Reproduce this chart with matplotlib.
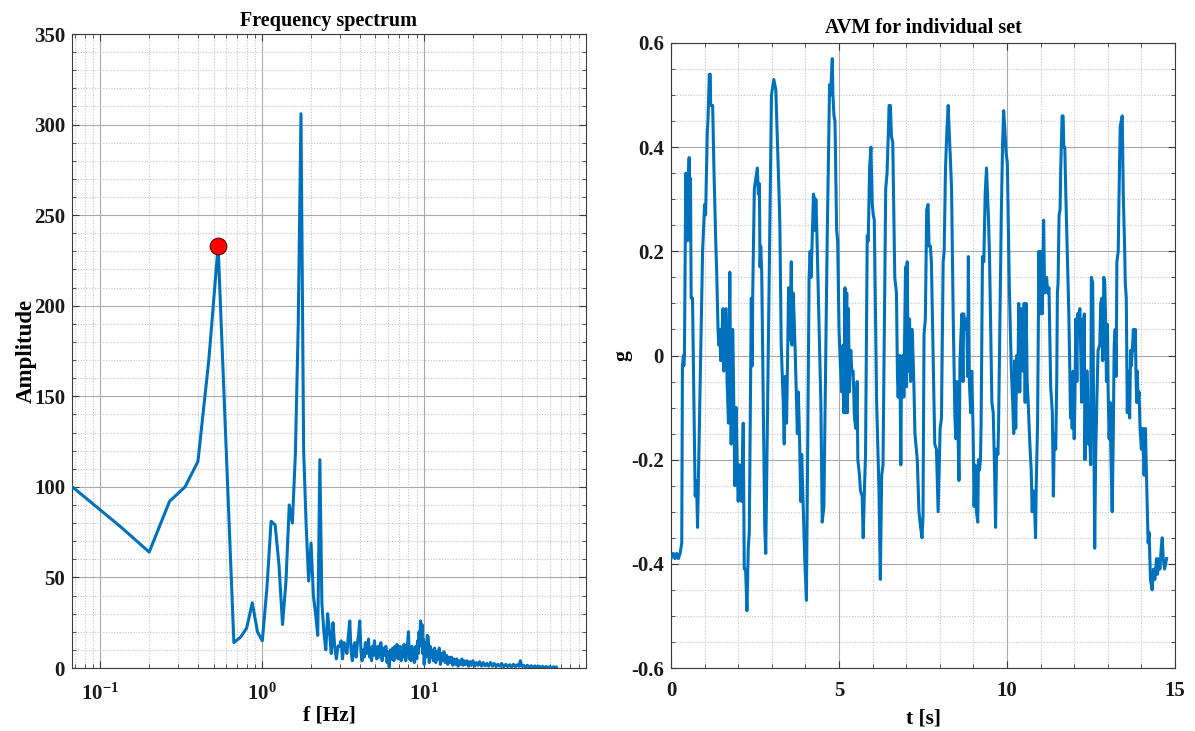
import numpy as np
import matplotlib
matplotlib.use('Agg')
import matplotlib.pyplot as plt
from matplotlib.ticker import MultipleLocator, FuncFormatter, LogLocator, NullFormatter

# ---------------- data: frequency spectrum ----------------
freq_low = [0.067, 0.133, 0.200, 0.267, 0.333, 0.400, 0.467, 0.533, 0.600, 0.667,
            0.733, 0.800, 0.867, 0.933, 1.000, 1.067, 1.133, 1.200, 1.267, 1.333,
            1.400, 1.467, 1.533, 1.600, 1.667, 1.733, 1.800, 1.867, 1.933, 2.000,
            2.067, 2.133, 2.200, 2.267, 2.333, 2.400, 2.467, 2.533, 2.600, 2.667,
            2.733, 2.800, 2.867, 2.933]
amp_low = [100, 78, 64, 92, 100, 114, 170, 233, 118, 14,
           17, 22, 36, 20, 15, 44, 81, 79, 57, 24,
           48, 90, 80, 118, 190, 306, 120, 78, 48, 69,
           40, 30, 18, 115, 36, 20, 10, 30, 20, 8,
           25, 12, 5, 12]

freq_tail = [3.00, 3.07, 3.13, 3.20, 3.27, 3.33, 3.40, 3.47, 3.53, 3.60, 3.67, 3.73, 3.80, 3.87, 3.93, 4.00,
             4.07, 4.13, 4.20, 4.27, 4.33, 4.40, 4.47, 4.53, 4.60, 4.67, 4.73, 4.80, 4.87, 4.93, 5.00,
             5.10, 5.20, 5.30, 5.40, 5.50, 5.60, 5.70, 5.80, 5.90, 6.00, 6.08, 6.20, 6.30, 6.40, 6.50,
             6.60, 6.70, 6.80, 6.90, 7.00, 7.10, 7.20, 7.30, 7.40, 7.50, 7.60, 7.70, 7.80, 7.90, 8.00,
             8.10, 8.20, 8.30, 8.40, 8.50, 8.60, 8.70, 8.80, 8.90, 9.00, 9.10, 9.20, 9.30, 9.40, 9.50,
             9.60, 9.70, 9.80, 9.90, 10.00,
             10.15, 10.30, 10.45, 10.60, 10.75, 10.90, 11.05, 11.20,
             11.40, 11.60, 11.80, 12.00, 12.20, 12.40, 12.60, 12.80, 13.00,
             13.25, 13.50, 13.75, 14.00, 14.25, 14.50, 14.75, 15.00,
             15.30, 15.60, 15.90, 16.20, 16.50, 16.80, 17.10, 17.40, 17.70, 18.00,
             18.40, 18.80, 19.20, 19.60, 20.00,
             20.50, 21.00, 21.50, 22.00,
             22.60, 23.20, 23.80, 24.40, 25.00,
             25.70, 26.40, 27.10, 27.80, 28.50,
             29.30, 30.10, 31.00, 31.90, 32.80, 33.70, 34.60, 35.60, 36.60, 37.60, 38.60,
             39.30, 40.00,
             41.00, 42.20, 43.40, 44.60, 45.80, 47.00, 48.30, 49.60,
             51.00, 52.40, 53.80, 55.30, 56.80, 58.30, 59.80, 61.40, 63.00, 64.60, 65.50]
amp_tail = [12, 15, 5, 14, 12, 8, 18, 26, 10, 4, 12, 14, 6, 14, 18, 26,
            9, 4, 10, 6, 14, 8, 12, 16, 6, 11, 4, 12, 7, 15, 9,
            5, 12, 6, 14, 4, 11, 7, 12, 3, 9, 0.5, 10, 5, 11, 4,
            12, 6, 13, 5, 10, 12, 4, 9, 6, 13, 7, 4, 12, 14, 20,
            5, 11, 4, 12, 6, 10, 3, 9, 12, 5, 15, 8, 20, 12, 26,
            14, 24, 8, 16, 2,
            14, 6, 18, 17, 3, 12, 6, 10,
            4, 11, 3, 9, 5, 11, 2, 8, 4,
            9, 3, 7, 2, 6, 3, 6, 1.5,
            5, 2, 5, 1, 4, 2, 5, 1.5, 4, 2,
            4, 1, 3.5, 1.5, 4,
            1, 3, 1.5, 3.5,
            1, 3, 1.2, 2.5, 1,
            3, 1, 2.5, 0.8, 2,
            1, 2.5, 0.7, 2, 0.8, 1.8, 0.6, 2, 0.7, 1.8, 1,
            4, 1,
            1.5, 0.5, 1.5, 0.4, 1.3, 0.4, 1.2, 0.3,
            1, 0.3, 0.9, 0.3, 0.8, 0.3, 0.7, 0.3, 0.6, 0.3, 0.5]

# ---------------- data: AVM time history ----------------
t_sec = [
    0.00, 0.07, 0.12, 0.17, 0.22, 0.27, 0.32, 0.34, 0.37, 0.38, 0.40, 0.44, 0.47, 0.54, 0.56, 0.58, 0.60, 0.64,
    0.72, 0.76, 0.79, 0.94, 1.00, 1.03, 1.08, 1.10, 1.14, 1.17, 1.18, 1.24, 1.28, 1.34, 1.36, 1.40, 1.42, 1.45,
    1.48, 1.55, 1.57, 1.64, 1.67, 1.71, 1.75, 1.79, 1.84, 1.90, 1.94, 1.97, 2.00, 2.04, 2.10, 2.15, 2.18, 2.22,
    2.26, 2.30, 2.33, 2.39, 2.42, 2.43, 2.48, 2.57, 2.60, 2.63, 2.65, 2.67, 2.70, 2.79, 2.82, 2.99, 3.06, 3.12,
    3.22, 3.24, 3.28, 3.34, 3.37, 3.40, 3.44, 3.50, 3.54, 3.58, 3.60, 3.64, 3.70,
    3.76, 3.79, 3.83, 3.86, 3.89, 3.93, 3.98, 4.03, 4.11, 4.14, 4.17, 4.21, 4.24, 4.27, 4.29, 4.31, 4.34, 4.46,
    4.50, 4.55, 4.65, 4.72, 4.75, 4.80, 4.82, 4.85, 4.88, 4.93, 4.96, 5.00, 5.03, 5.08, 5.12, 5.14, 5.18, 5.20,
    5.23, 5.25, 5.28, 5.31, 5.35, 5.38, 5.42, 5.46, 5.50, 5.54, 5.56, 5.61, 5.64, 5.69, 5.72, 5.76, 5.79, 5.84,
    5.87, 5.91, 5.95, 5.99, 6.02, 6.05, 6.12, 6.19, 6.23, 6.27, 6.31, 6.39, 6.43, 6.47, 6.49, 6.53, 6.56, 6.60,
    6.66, 6.71, 6.74, 6.76, 6.81, 6.84, 6.86, 6.90, 6.93, 6.98, 7.01, 7.03, 7.06, 7.10, 7.13, 7.18, 7.23, 7.26,
    7.33,
    7.38, 7.43, 7.47, 7.50, 7.53, 7.57, 7.61, 7.65, 7.68, 7.72, 7.75, 7.85, 7.90, 7.95, 7.98, 8.01, 8.05, 8.10,
    8.13, 8.17, 8.21, 8.25, 8.28, 8.32, 8.35, 8.40, 8.45, 8.48, 8.51, 8.54, 8.57, 8.60, 8.63, 8.66, 8.69, 8.71,
    8.75, 8.80, 8.83, 8.85, 8.88, 8.92, 8.95, 8.99, 9.02, 9.05, 9.09, 9.13, 9.15, 9.18, 9.21, 9.23, 9.27, 9.31,
    9.35, 9.39, 9.42, 9.45, 9.48, 9.55, 9.59, 9.63, 9.66, 9.69, 9.73, 9.75, 9.80, 9.83, 9.87, 9.90, 9.93, 9.97,
    10.01, 10.07, 10.13, 10.17, 10.20, 10.23, 10.26, 10.29, 10.32, 10.35, 10.38, 10.41, 10.44, 10.47, 10.51,
    10.54, 10.57, 10.60, 10.63, 10.68, 10.72, 10.75, 10.78, 10.81, 10.85, 10.87, 10.91, 10.95, 10.98, 11.01,
    11.05, 11.09, 11.12, 11.15, 11.18, 11.21, 11.25, 11.30, 11.35,
    11.38, 11.41, 11.45, 11.48, 11.50, 11.52, 11.55, 11.58, 11.60, 11.64, 11.67, 11.69, 11.72, 11.75, 11.79,
    11.84, 11.87, 11.89, 11.92, 11.94, 11.97, 12.00, 12.02, 12.05, 12.08, 12.10, 12.14, 12.17, 12.20, 12.22,
    12.25, 12.28, 12.30, 12.32, 12.35, 12.39, 12.42, 12.46, 12.49, 12.51, 12.55, 12.58, 12.61, 12.64, 12.68,
    12.71, 12.76, 12.79, 12.82, 12.85, 12.88, 12.91, 12.94, 12.96, 12.99, 13.01, 13.04, 13.07, 13.09, 13.13,
    13.16, 13.19, 13.22, 13.25, 13.27, 13.31, 13.34, 13.37, 13.40, 13.43, 13.46, 13.50, 13.52, 13.55, 13.58,
    13.60, 13.63, 13.65, 13.68, 13.70, 13.73, 13.76, 13.79, 13.82, 13.84, 13.86, 13.88, 13.90, 13.93, 13.96,
    14.00, 14.04, 14.08, 14.12, 14.14, 14.20, 14.23, 14.27, 14.32, 14.36, 14.40, 14.45, 14.48, 14.52, 14.55,
    14.59, 14.62, 14.65, 14.69, 14.72, 14.75]
g_val = [
    -0.39, -0.38, -0.39, -0.38, -0.39, -0.38, -0.36, -0.02, 0.00, -0.02, 0.00, 0.35, 0.22, 0.38, 0.22, 0.34, 0.11, 0.11,
    -0.27, -0.24, -0.33, 0.20, 0.29, 0.27, 0.43, 0.45, 0.54, 0.54, 0.48, 0.48, 0.35, 0.20, 0.16, 0.05, 0.02, 0.05,
    -0.01, 0.09, -0.03, 0.09, -0.05, -0.13, 0.16, -0.17, 0.05, -0.25, -0.10, -0.21, -0.28, -0.21, -0.28, -0.13, -0.41, -0.41,
    -0.49, -0.37, -0.34, 0.11, -0.02, 0.11, 0.32, 0.36, 0.31, 0.33, 0.17, 0.21, 0.16, -0.33, -0.38, 0.50, 0.53, 0.51,
    0.30, 0.25, 0.02, -0.09, -0.17, -0.04, -0.13, 0.13, 0.03, 0.18, 0.02, 0.12, 0.00,
    -0.15, -0.07, -0.17, -0.28, -0.19, -0.28, -0.39, -0.47, 0.15, 0.20, 0.15, 0.24, 0.31, 0.30, 0.24, 0.30, 0.24, -0.09,
    -0.32, -0.29, 0.23, 0.52, 0.50, 0.57, 0.50, 0.46, 0.45, 0.24, 0.22, 0.05, 0.00, -0.07, 0.02, -0.11, 0.13, -0.11,
    0.12, -0.11, 0.09, -0.07, 0.01, -0.03, -0.03, -0.12, -0.14, -0.05, -0.20, -0.23, -0.26, -0.27, -0.35, -0.25, -0.19, 0.23,
    0.22, 0.36, 0.40, 0.29, 0.27, 0.26, -0.09, -0.26, -0.43, -0.23, -0.21, 0.32, 0.35, 0.43, 0.48, 0.48, 0.42, 0.41,
    0.15, 0.12, -0.04, -0.08, 0.00, -0.21, -0.04, 0.00, -0.08, 0.17, -0.06, 0.18, -0.03, 0.07, -0.05, 0.05, -0.06, -0.15,
    -0.20,
    -0.30, -0.33, -0.35, -0.31, 0.04, 0.07, 0.28, 0.29, 0.21, 0.21, 0.18, -0.17, -0.18, -0.30, -0.22, -0.14, -0.12, 0.18,
    0.20, 0.36, 0.43, 0.48, 0.43, 0.37, 0.32, 0.07, -0.12, -0.16, -0.05, -0.14, -0.24, -0.01, 0.04, 0.08, -0.05, 0.08,
    0.05, 0.07, -0.04, 0.19, -0.05, -0.11, -0.03, -0.14, -0.29, -0.21, -0.30, -0.32, -0.20, -0.22, -0.20, -0.13, 0.19, 0.18,
    0.31, 0.36, 0.31, 0.26, 0.19, -0.09, -0.11, -0.22, -0.33, -0.18, -0.19, -0.13, 0.13, 0.27, 0.41, 0.47, 0.44, 0.39,
    0.37, 0.13, -0.03, -0.09, -0.15, -0.01, -0.14, 0.00, -0.07, 0.10, -0.07, 0.07, 0.09, -0.03, 0.10,
    -0.09, 0.10, -0.05, -0.09, -0.17, -0.22, -0.30, -0.26, -0.27, -0.35, -0.25, -0.13, 0.20, 0.08, 0.20,
    0.08, 0.26, 0.12, 0.13, 0.15, 0.12, 0.13, -0.06, -0.11,
    -0.27, -0.15, -0.18, -0.05, 0.12, 0.14, 0.27, 0.28, 0.36, 0.46, 0.46, 0.40, 0.40, 0.31, 0.21,
    0.08, -0.03, -0.12, -0.04, -0.14, -0.03, -0.16, -0.09, 0.07, -0.05, 0.08, 0.08, 0.09, -0.01, -0.09,
    0.07, -0.07, 0.08, -0.20, -0.03, -0.03, -0.17, -0.15, -0.21, 0.15, 0.14, -0.11, -0.37, -0.19, -0.07,
    0.01, 0.02, 0.10, 0.11, -0.01, 0.15, 0.14, 0.05, -0.05, 0.06, -0.07, -0.16, -0.09, -0.18, -0.30,
    -0.17, 0.02, 0.05, -0.04, 0.18, 0.20, 0.33, 0.44, 0.45, 0.46, 0.31, 0.21, 0.14, 0.11, -0.11,
    -0.07, -0.03, -0.12, 0.01, -0.02, 0.01, 0.05, 0.01, 0.05, -0.04, -0.09, -0.03, -0.09, -0.07, -0.14,
    -0.18, -0.14, -0.23, -0.14, -0.20, -0.36, -0.34, -0.43, -0.45, -0.41, -0.43, -0.39, -0.42, -0.39, -0.41,
    -0.37, -0.35, -0.39, -0.41, -0.40, -0.39]

x_major_ticks_left = [0.1, 1, 10]

# ---------------- style ----------------
plt.rcParams['font.family'] = ['Liberation Serif', 'DejaVu Serif']
plt.rcParams['font.weight'] = 'bold'
plt.rcParams['axes.unicode_minus'] = False
plt.rcParams['mathtext.fontset'] = 'custom'
plt.rcParams['mathtext.rm'] = 'Liberation Serif:bold'
plt.rcParams['mathtext.bf'] = 'Liberation Serif:bold'
plt.rcParams['mathtext.it'] = 'Liberation Serif:bold'

LINE_C = '#0072BD'
FS_TICK = 15
FS_LAB = 15.5
FS_TITLE = 14.5

W, H = 1195, 731
fig = plt.figure(figsize=(W / 100, H / 100), dpi=100)
ax1 = fig.add_axes([72 / W, (H - 668) / H, (586 - 72) / W, (668 - 34) / H])
ax2 = fig.add_axes([671 / W, (H - 668) / H, (1175 - 671) / W, (668 - 43) / H])


def style(ax):
    ax.set_axisbelow(True)
    ax.grid(True, which='major', color='#a9a9a9', linewidth=0.8, linestyle='-')
    ax.grid(True, which='minor', color='#c4c4c4', linewidth=0.8, linestyle=(0, (1, 1.5)))
    for s in ax.spines.values():
        s.set_color('#3a3a3a')
        s.set_linewidth(0.8)
    ax.tick_params(which='both', direction='in', top=True, right=True,
                   color='#3a3a3a', labelsize=FS_TICK, labelcolor='#1a1a1a')
    ax.tick_params(which='major', length=5, width=0.8)
    ax.tick_params(which='minor', length=3, width=0.6)


# ---- left: frequency spectrum ----
freq = np.array(freq_low + freq_tail)
amp = np.array(amp_low + amp_tail)
ax1.plot(freq, amp, color=LINE_C, lw=2.2, solid_joinstyle='round', zorder=3)
low = freq < 1.0
ipk = np.argmax(np.where(low, amp, -1))
ax1.plot([freq[ipk]], [amp[ipk]], 'o', ms=12, mfc='red', mec='#600000', mew=0.8, zorder=4)

ax1.set_xscale('log')
ax1.set_xlim(1 / 15, 100)
ax1.set_ylim(0, 350)
ax1.set_xticks(x_major_ticks_left)
ax1.xaxis.set_minor_locator(LogLocator(base=10, subs=np.arange(2, 10)))
ax1.xaxis.set_minor_formatter(NullFormatter())
ax1.xaxis.set_major_formatter(FuncFormatter(lambda v, p: r'$\mathbf{10^{%d}}$' % int(round(np.log10(v)))))
ax1.yaxis.set_major_locator(MultipleLocator(50))
ax1.yaxis.set_minor_locator(MultipleLocator(10))
style(ax1)
ax1.tick_params(axis='x', which='major', pad=11)
ax1.tick_params(axis='y', which='major', pad=5)
ax1.set_title('Frequency spectrum', fontsize=FS_TITLE, fontweight='bold', pad=6)
ax1.set_xlabel('f [Hz]', fontsize=FS_LAB, fontweight='bold', labelpad=1)
ax1.set_ylabel('Amplitude', fontsize=FS_LAB + 1, fontweight='bold', labelpad=-2)

# ---- right: AVM ----
ax2.plot(t_sec, g_val, color=LINE_C, lw=2.2, solid_joinstyle='round', zorder=3)
ax2.set_xlim(0, 15)
ax2.set_ylim(-0.6, 0.6)
ax2.xaxis.set_major_locator(MultipleLocator(5))
ax2.xaxis.set_minor_locator(MultipleLocator(1))
ax2.yaxis.set_major_locator(MultipleLocator(0.2))
ax2.yaxis.set_minor_locator(MultipleLocator(0.05))
ax2.yaxis.set_major_formatter(FuncFormatter(lambda v, p: '%g' % round(v, 2)))
style(ax2)
ax2.tick_params(axis='x', which='major', pad=9)
ax2.tick_params(axis='y', which='major', pad=5)
ax2.set_title('AVM for individual set', fontsize=FS_TITLE, fontweight='bold', pad=7)
ax2.set_xlabel('t [s]', fontsize=FS_LAB, fontweight='bold', labelpad=6)
ax2.set_ylabel('g', fontsize=FS_LAB, fontweight='bold', labelpad=-1)

fig.savefig('out.png', dpi=100)
